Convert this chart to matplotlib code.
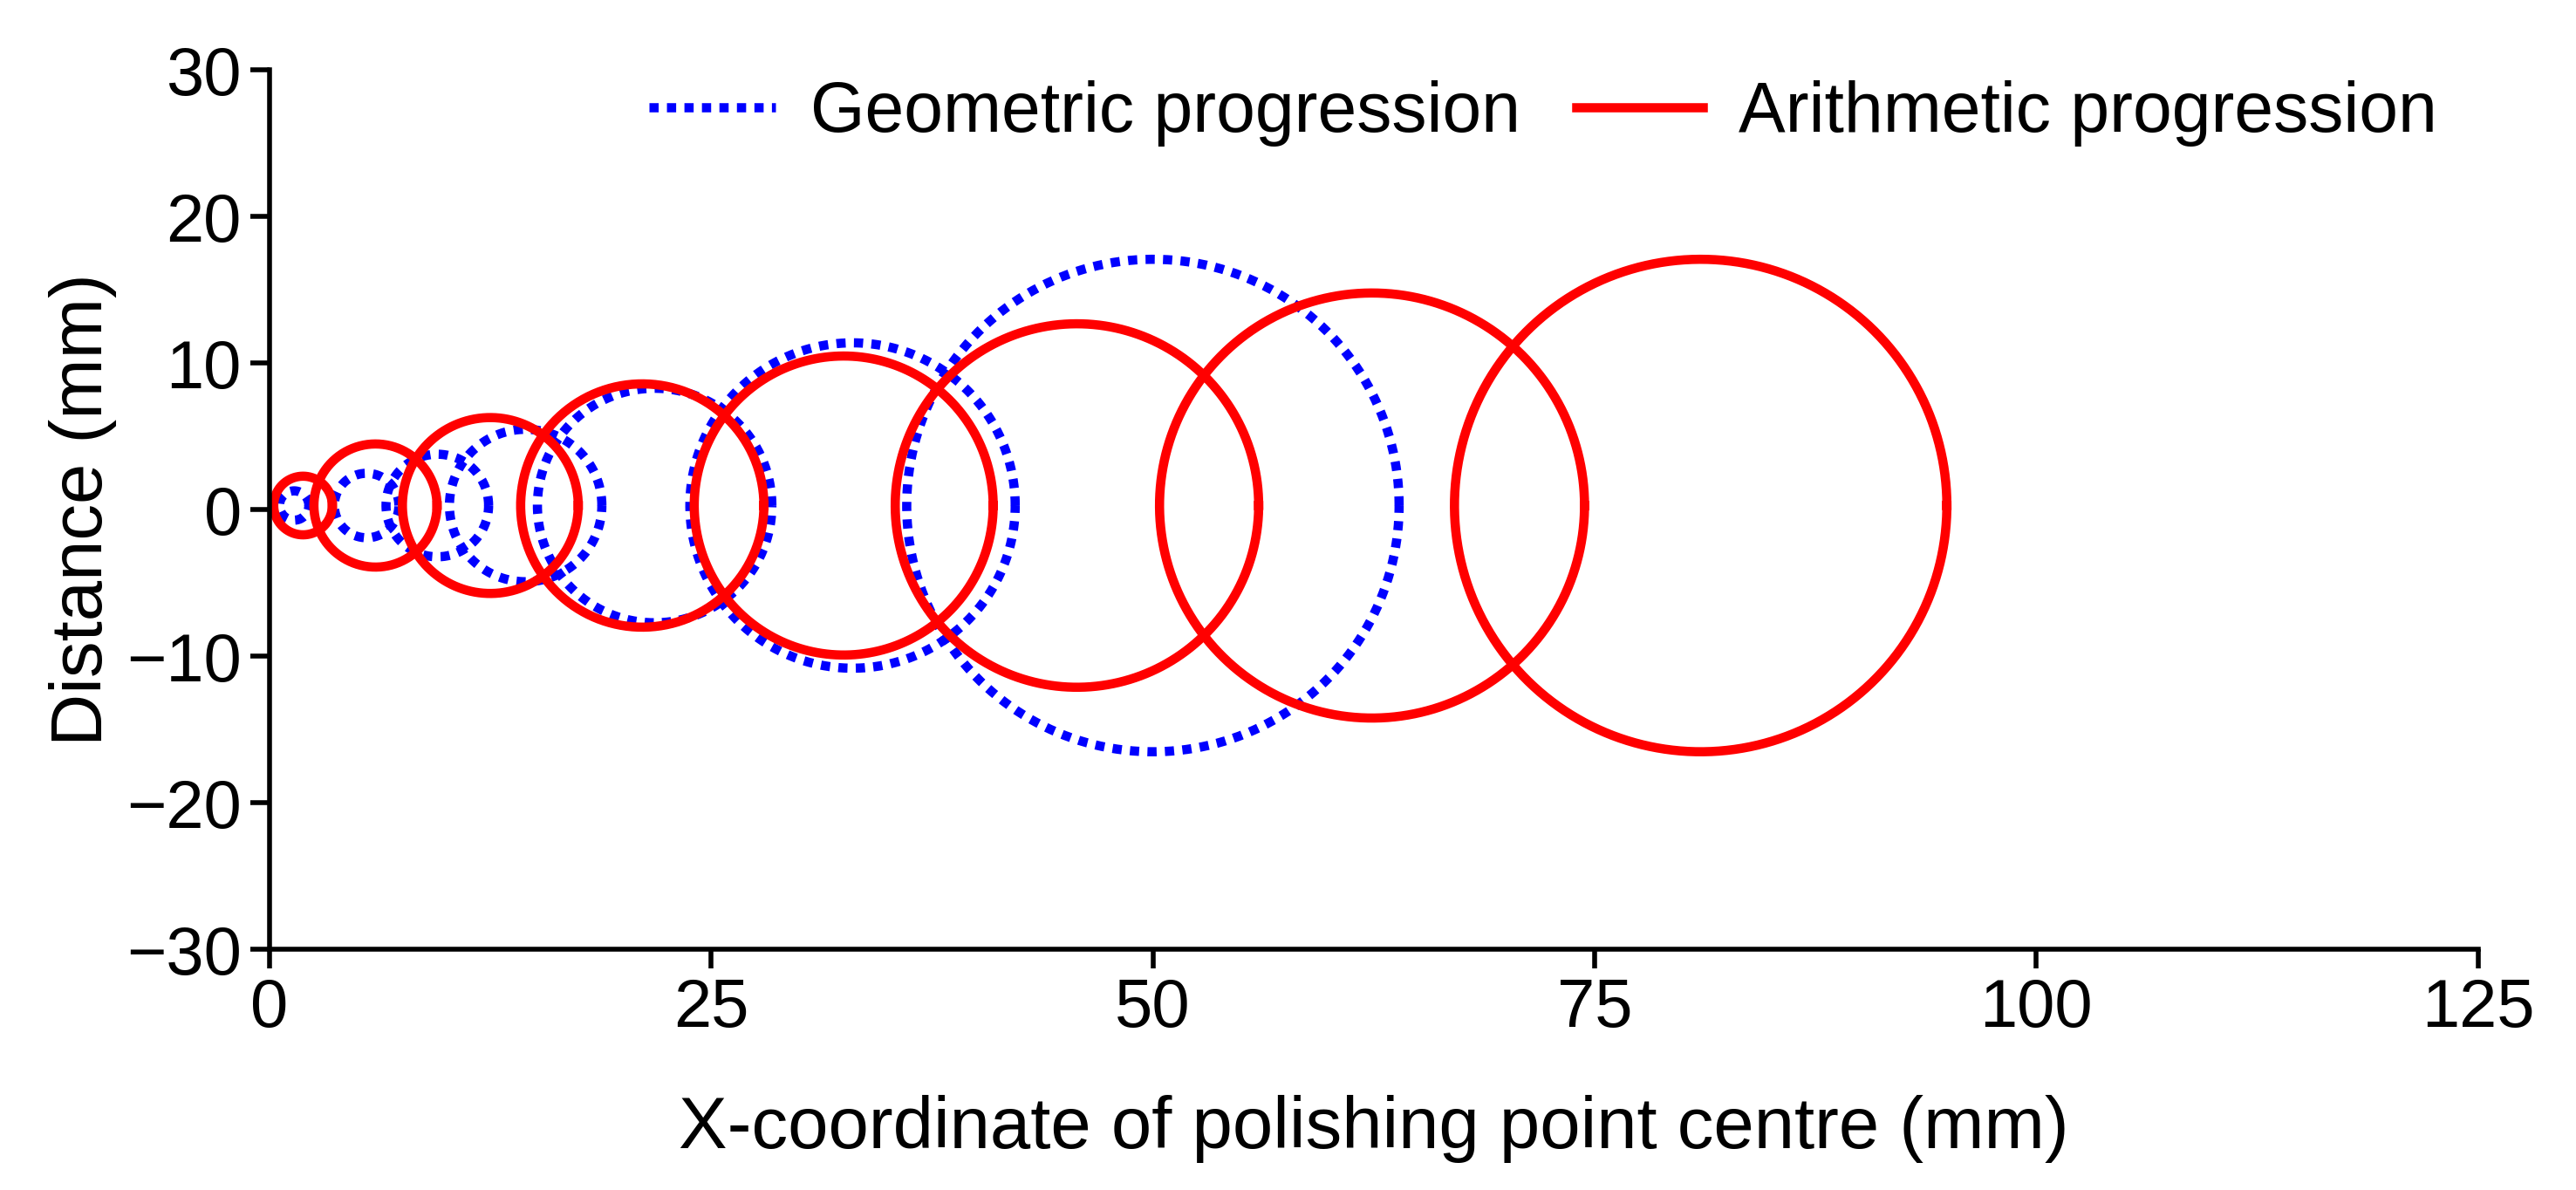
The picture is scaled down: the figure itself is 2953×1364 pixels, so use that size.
import numpy as np
import matplotlib
matplotlib.use("Agg")
from matplotlib import pyplot as plt

plt.rcParams['font.family'] = ['Liberation Sans', 'DejaVu Sans']

# geometric progression circles (centre x, radius in mm)
geo_x = [1.4, 5.5, 9.5, 14.5, 21.8, 33.0, 50.0]
geo_r = [1.0, 2.2, 3.5, 5.2, 8.0, 11.1, 16.8]
# arithmetic progression circles
ari_x = [1.9, 6.0, 12.5, 21.1, 32.5, 45.7, 62.4, 81.0]
ari_r = [2.0, 4.2, 6.0, 8.3, 10.2, 12.4, 14.5, 16.8]
centre_y = 0.3

fig = plt.figure(figsize=(14.765, 6.82), dpi=200)
ax = fig.add_axes([0.1046, 0.202, 0.8574, 0.739])
ax.set_xlim(0, 125)
ax.set_ylim(-30, 30)

# circles appear round on screen, so squash x by the axis scale ratio
bb = ax.get_position()
w_in = bb.width * fig.get_figwidth()
h_in = bb.height * fig.get_figheight()
ratio = (125 / w_in) / (60 / h_in)

t = np.linspace(0, 2 * np.pi, 400)
for i, (cx, r) in enumerate(zip(geo_x, geo_r)):
    ax.plot(cx + r * ratio * np.cos(t), centre_y + r * np.sin(t), color='blue',
            linestyle=(0, (1.0, 0.9)), lw=3.8,
            label='Geometric progression' if i == 0 else None)
for i, (cx, r) in enumerate(zip(ari_x, ari_r)):
    ax.plot(cx + r * ratio * np.cos(t), centre_y + r * np.sin(t), color='red',
            lw=3.8, label='Arithmetic progression' if i == 0 else None)

ax.set_xticks([0, 25, 50, 75, 100, 125])
ax.set_yticks([-30, -20, -10, 0, 10, 20, 30])
ax.spines['top'].set_visible(False)
ax.spines['right'].set_visible(False)
for s in ('left', 'bottom'):
    ax.spines[s].set_linewidth(2)
ax.tick_params(labelsize=28, width=2, length=8, direction='out')
ax.set_xlabel('X-coordinate of polishing point centre (mm)', fontsize=30, labelpad=22)
ax.set_ylabel('Distance (mm)', fontsize=30, labelpad=4)
ax.legend(loc='upper right', ncol=2, frameon=False, fontsize=29,
          handlelength=1.8, handletextpad=0.5, columnspacing=0.8,
          bbox_to_anchor=(1.01, 1.06))

fig.savefig('out.png', dpi=200)
